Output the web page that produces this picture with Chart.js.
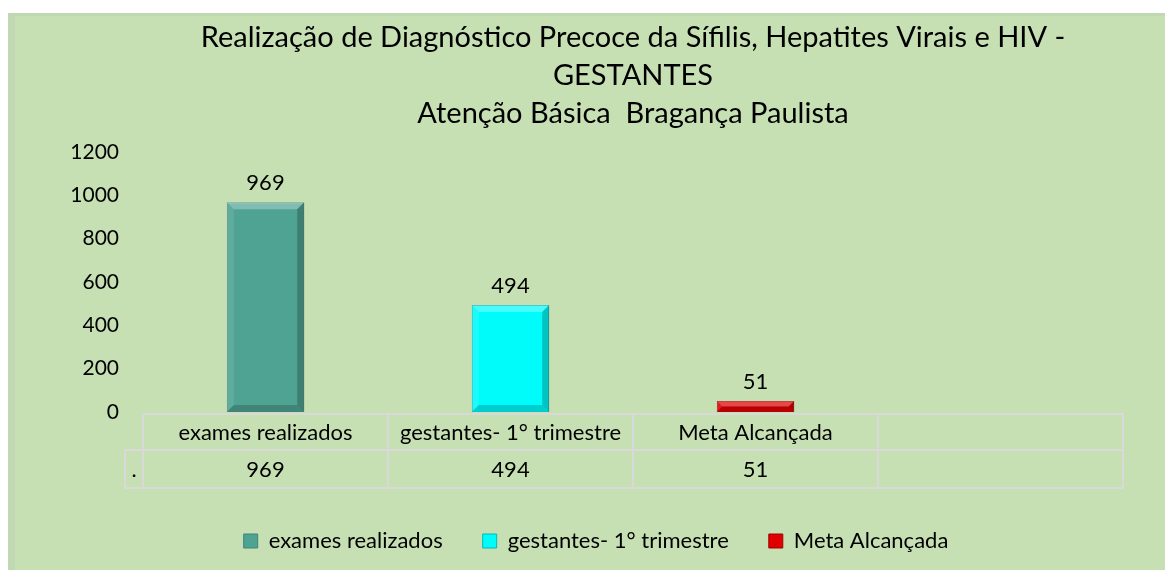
<!DOCTYPE html>
<html><head><meta charset="utf-8">
<script src="https://cdn.jsdelivr.net/npm/chart.js@4/dist/chart.umd.min.js"></script>
<style>
html,body{margin:0;padding:0;background:#fff;}
#wrap{position:absolute;left:8px;top:13px;width:1157px;height:557px;background:#c6e0b4;box-shadow:inset 7px 3px 0 #c0d9b3;}
canvas{display:block;}
</style></head><body>
<div id="wrap"><canvas id="c" width="1157" height="557"></canvas></div>
<script>
const titleLines = ['Realização de Diagnóstico Precoce da Sífilis, Hepatites Virais e HIV -', 'GESTANTES', 'Atenção Básica  Bragança Paulista'];
const categories = ['exames realizados', 'gestantes- 1° trimestre', 'Meta Alcançada', ''];
const seriesNames = ['exames realizados', 'gestantes- 1° trimestre', 'Meta Alcançada'];
const examesRealizados = [969, null, null, null];
const gestantesPrimeiroTrimestre = [null, 494, null, null];
const metaAlcancada = [null, null, 51, null];
const tableRowLabel = '.';
const tableValues = ['969', '494', '51', ''];
const yMin = 0, yMax = 1200, yStep = 200;

const FONT = 'Lato';
const BODY_SIZE = 22;

const bevelPlugin = {
  id: 'bevel',
  afterDatasetsDraw(chart) {
    const ctx = chart.ctx;
    chart.data.datasets.forEach((ds, di) => {
      const meta = chart.getDatasetMeta(di);
      meta.data.forEach((el, i) => {
        if (ds.data[i] == null) return;
        const p = el.getProps(['x', 'y', 'base', 'width'], true);
        const l = p.x - p.width / 2, r = p.x + p.width / 2, t = Math.min(p.y, p.base), b = Math.max(p.y, p.base);
        const s = Math.min(7, (b - t) / 2);
        const poly = (pts, fill) => {
          ctx.beginPath(); ctx.moveTo(pts[0][0], pts[0][1]);
          for (let k = 1; k < pts.length; k++) ctx.lineTo(pts[k][0], pts[k][1]);
          ctx.closePath(); ctx.fillStyle = fill; ctx.fill();
        };
        ctx.save();
        poly([[l, t], [r, t], [r - s, t + s], [l + s, t + s]], 'rgba(255,255,255,0.28)');
        poly([[l, t], [l + s, t + s], [l + s, b - s], [l, b]], 'rgba(255,255,255,0.10)');
        poly([[r, t], [r, b], [r - s, b - s], [r - s, t + s]], 'rgba(0,0,0,0.22)');
        poly([[l, b], [r, b], [r - s, b - s], [l + s, b - s]], 'rgba(0,0,0,0.18)');
        ctx.restore();
      });
    });
  }
};

const labelPlugin = {
  id: 'valueLabels',
  afterDatasetsDraw(chart) {
    const ctx = chart.ctx;
    ctx.save();
    ctx.font = BODY_SIZE + 'px ' + FONT;
    ctx.fillStyle = '#000';
    ctx.textAlign = 'center';
    ctx.textBaseline = 'alphabetic';
    chart.data.datasets.forEach((ds, di) => {
      const meta = chart.getDatasetMeta(di);
      meta.data.forEach((el, i) => {
        if (ds.data[i] == null) return;
        ctx.fillText(String(ds.data[i]), el.x, el.y - 12);
      });
    });
    ctx.restore();
  }
};

const tablePlugin = {
  id: 'dataTable',
  afterDraw(chart) {
    const ctx = chart.ctx;
    const xs = chart.scales.x;
    const area = chart.chartArea;
    const n = categories.length;
    const colW = (area.right - area.left) / n;
    const top = area.bottom + 2, mid = top + 36, bot = mid + 38;
    const labelLeft = area.left - 18;
    ctx.save();
    ctx.strokeStyle = '#d9d9d9';
    ctx.lineWidth = 2;
    ctx.beginPath();
    ctx.moveTo(area.left, top); ctx.lineTo(area.right, top);
    ctx.moveTo(labelLeft, mid); ctx.lineTo(area.right, mid);
    ctx.moveTo(labelLeft, bot); ctx.lineTo(area.right, bot);
    ctx.moveTo(labelLeft, mid); ctx.lineTo(labelLeft, bot);
    for (let i = 0; i <= n; i++) {
      const x = i < n ? xs.getPixelForValue(i) - colW / 2 : xs.getPixelForValue(n - 1) + colW / 2;
      ctx.moveTo(x, top); ctx.lineTo(x, bot);
    }
    ctx.stroke();
    ctx.font = BODY_SIZE + 'px ' + FONT;
    ctx.fillStyle = '#000';
    ctx.textAlign = 'center';
    ctx.textBaseline = 'middle';
    categories.forEach((c, i) => {
      const x = xs.getPixelForValue(i);
      ctx.fillText(c, x, (top + mid) / 2 + 1);
      ctx.fillText(tableValues[i], x, (mid + bot) / 2 + 1);
    });
    ctx.fillText(tableRowLabel, (labelLeft + area.left) / 2, (mid + bot) / 2 + 1);
    ctx.restore();
  }
};

new Chart(document.getElementById('c'), {
  type: 'bar',
  data: {
    labels: categories,
    datasets: [
      { label: seriesNames[0], data: examesRealizados, backgroundColor: '#4fa393', borderColor: '#3f8577', borderWidth: 1 },
      { label: seriesNames[1], data: gestantesPrimeiroTrimestre, backgroundColor: '#00fbfb', borderColor: '#00b8b8', borderWidth: 1 },
      { label: seriesNames[2], data: metaAlcancada, backgroundColor: '#e00000', borderColor: '#a00000', borderWidth: 1 }
    ]
  },
  options: {
    responsive: false,
    animation: false,
    layout: { padding: { left: 61, right: 42, top: 0, bottom: 8 } },
    datasets: { bar: { grouped: false, categoryPercentage: 1, barPercentage: 0.316 } },
    scales: {
      x: {
        grid: { display: false }, border: { display: false },
        ticks: { display: false },
        afterFit(s) { s.height = 78; }
      },
      y: {
        min: yMin, max: yMax,
        grid: { display: false, drawTicks: false }, border: { display: false },
        ticks: { stepSize: yStep, color: '#000', padding: 24, font: { family: FONT, size: 21 }, callback: v => String(v) },
        afterFit(s) { s.width = 74; }
      }
    },
    plugins: {
      tooltip: { enabled: false },
      title: {
        display: true, fullSize: false, text: titleLines, color: '#000',
        font: { family: FONT, size: 29, weight: 'normal', lineHeight: 1.3 },
        padding: { top: 6, bottom: 20 }
      },
      legend: {
        position: 'bottom',
        labels: { boxWidth: 14, boxHeight: 14, padding: 40, color: '#000', font: { family: FONT, size: BODY_SIZE } }
      }
    }
  },
  plugins: [bevelPlugin, labelPlugin, tablePlugin]
});
</script>
</body></html>
